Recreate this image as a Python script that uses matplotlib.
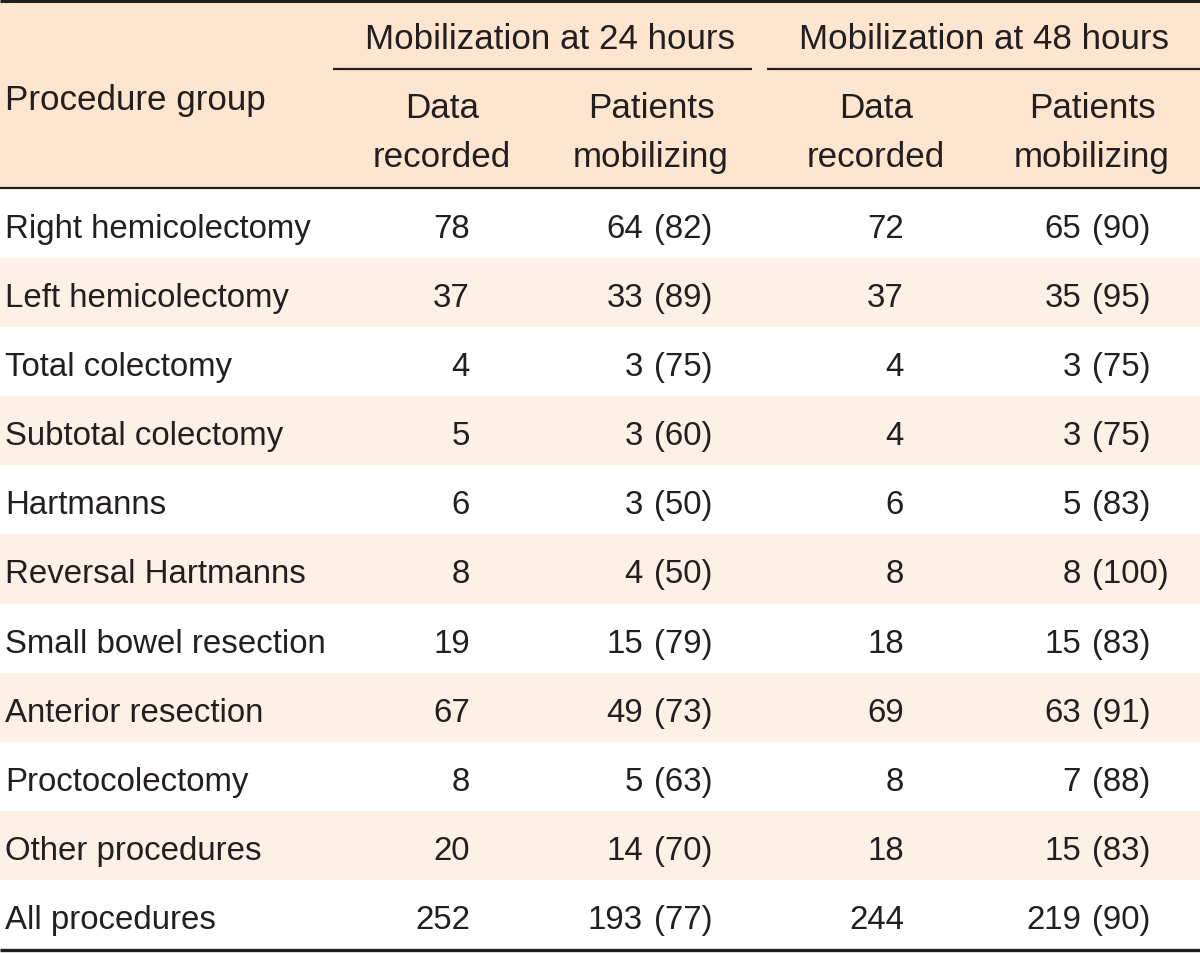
import matplotlib
matplotlib.use("Agg")
import matplotlib.pyplot as plt
from matplotlib.patches import Rectangle

procedures = [
    "Right hemicolectomy", "Left hemicolectomy", "Total colectomy",
    "Subtotal colectomy", "Hartmanns", "Reversal Hartmanns",
    "Small bowel resection", "Anterior resection", "Proctocolectomy",
    "Other procedures", "All procedures",
]
recorded_24 = [78, 37, 4, 5, 6, 8, 19, 67, 8, 20, 252]
mobilizing_24 = [64, 33, 3, 3, 3, 4, 15, 49, 5, 14, 193]
pct_24 = [82, 89, 75, 60, 50, 50, 79, 73, 63, 70, 77]
recorded_48 = [72, 37, 4, 4, 6, 8, 18, 69, 8, 18, 244]
mobilizing_48 = [65, 35, 3, 3, 5, 8, 15, 63, 7, 15, 219]
pct_48 = [90, 95, 75, 75, 83, 100, 83, 91, 88, 83, 90]

group_headers = ["Mobilization at 24 hours", "Mobilization at 48 hours"]
sub_top = ["Data", "Patients"]
sub_bottom = ["recorded", "mobilizing"]

ink = "#231f20"
head_bg = "#fde5cf"
band_bg = "#fdf0e4"
font = ["Liberation Sans", "DejaVu Sans"]
fs_body = 23.8
fs_head = 25.2

W, H = 1200, 954
fig = plt.figure(figsize=(W / 100, H / 100), dpi=100)
ax = fig.add_axes([0, 0, 1, 1])
ax.set_xlim(0, W)
ax.set_ylim(H, 0)
ax.axis("off")

head_h = 190
row_h = (950 - head_h) / len(procedures)

# header background
ax.add_patch(Rectangle((0, 0), W, head_h, color=head_bg, lw=0))

# alternating bands
for i in range(len(procedures)):
    if i % 2 == 1:
        ax.add_patch(Rectangle((0, head_h + i * row_h), W, row_h, color=band_bg, lw=0))

# rules
ax.plot([0, W], [1.5, 1.5], color=ink, lw=2.2, solid_capstyle="butt")
ax.plot([0, W], [head_h - 1, head_h - 1], color=ink, lw=1.6, solid_capstyle="butt")
ax.plot([0, W], [950.5, 950.5], color=ink, lw=2.4, solid_capstyle="butt")
ax.plot([333, 752], [70, 70], color=ink, lw=1.6, solid_capstyle="butt")
ax.plot([767, W], [70, 70], color=ink, lw=1.6, solid_capstyle="butt")

head = dict(color=ink, fontsize=fs_head, family=font, va="baseline")
body = dict(color=ink, fontsize=fs_body, family=font, va="baseline")

# headers
ax.text(5, 110, "Procedure group", ha="left", **head)
ax.text(550, 49, group_headers[0], ha="center", **head)
ax.text(984, 49, group_headers[1], ha="center", **head)
for xc, top, bot in zip([442, 651, 876, 1092], sub_top * 2, sub_bottom * 2):
    ax.text(xc, 118, top, ha="center", **head)
    ax.text(xc, 167, bot, ha="center", **head)

# body
for i, name in enumerate(procedures):
    y = head_h + (i + 0.5) * row_h + 13.5
    ax.text(5, y, name, ha="left", **body)
    ax.text(470, y, str(recorded_24[i]), ha="right", **body)
    ax.text(643, y, str(mobilizing_24[i]), ha="right", **body)
    ax.text(654, y, f"({pct_24[i]})", ha="left", **body)
    ax.text(904, y, str(recorded_48[i]), ha="right", **body)
    ax.text(1081, y, str(mobilizing_48[i]), ha="right", **body)
    ax.text(1092, y, f"({pct_48[i]})", ha="left", **body)

fig.savefig("out.png", dpi=100, facecolor="white")
